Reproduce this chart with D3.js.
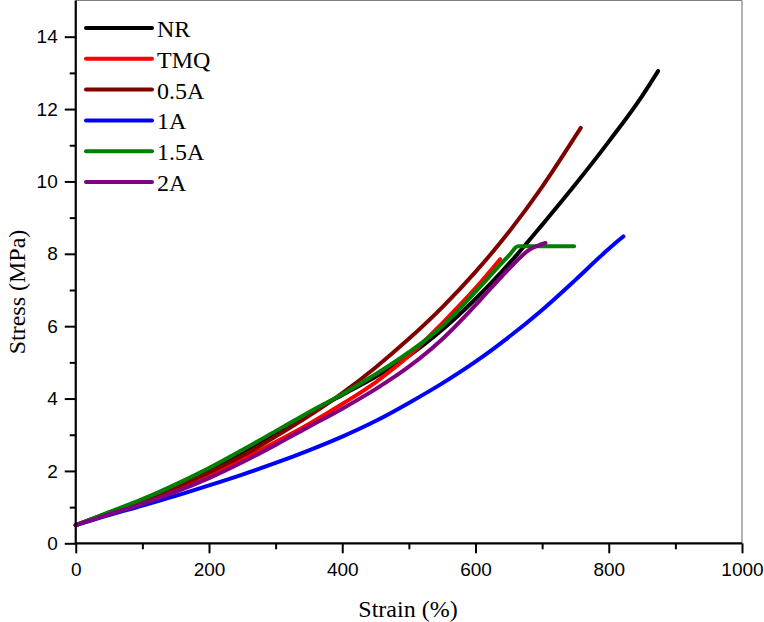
<!DOCTYPE html>
<html>
<head>
<meta charset="utf-8">
<script src="https://cdn.jsdelivr.net/npm/d3@7"></script>
<style>
  html, body { margin: 0; padding: 0; background: #fff; }
  svg { display: block; }
  .serif { font-family: "Liberation Serif", "Times New Roman", Times, "DejaVu Serif", serif; }
  .sans { font-family: "Liberation Sans", Arial, Helvetica, sans-serif; }
</style>
</head>
<body>
<svg id="chart" width="764" height="622"></svg>
<script>
// ---- data (strain %, stress MPa) ----
const seriesNames = ["NR", "TMQ", "0.5A", "1A", "1.5A", "2A"];
const seriesColors = ["#000000", "#ff0000", "#800000", "#0000ff", "#008000", "#800080"];

const nrStrain = [0, 50, 100, 150, 200, 250, 300, 350, 400, 450, 500, 550, 600, 650, 700, 750, 800, 850, 874];
const nrStress = [0.5, 0.84, 1.18, 1.56, 2.0, 2.5, 3.04, 3.6, 4.1, 4.6, 5.18, 5.9, 6.75, 7.72, 8.8, 9.92, 11.1, 12.36, 13.05];

const tmqStrain = [0, 50, 100, 150, 200, 250, 300, 350, 400, 450, 500, 550, 600, 637];
const tmqStress = [0.5, 0.84, 1.17, 1.52, 1.9, 2.33, 2.8, 3.3, 3.85, 4.45, 5.18, 6.08, 7.05, 7.85];

const a05Strain = [0, 50, 100, 150, 200, 250, 300, 350, 400, 450, 500, 550, 600, 650, 700, 750, 758];
const a05Stress = [0.5, 0.84, 1.18, 1.55, 1.96, 2.42, 2.95, 3.52, 4.15, 4.86, 5.65, 6.52, 7.5, 8.6, 9.85, 11.25, 11.48];

const a1Strain = [0, 50, 100, 150, 200, 250, 300, 350, 400, 450, 500, 550, 600, 650, 700, 750, 790, 810, 822];
const a1Stress = [0.5, 0.78, 1.04, 1.31, 1.6, 1.9, 2.22, 2.57, 2.95, 3.38, 3.88, 4.42, 5.02, 5.7, 6.45, 7.28, 7.97, 8.3, 8.48];

const a15Strain = [0, 50, 100, 150, 200, 250, 300, 350, 400, 450, 500, 550, 600, 650, 664, 748];
const a15Stress = [0.5, 0.86, 1.22, 1.63, 2.08, 2.58, 3.1, 3.62, 4.12, 4.67, 5.28, 6.0, 6.95, 7.95, 8.21, 8.21];

const a2Strain = [0, 50, 100, 150, 200, 250, 300, 350, 400, 450, 500, 550, 600, 650, 680, 705];
const a2Stress = [0.5, 0.8, 1.09, 1.42, 1.8, 2.24, 2.72, 3.22, 3.72, 4.26, 4.88, 5.64, 6.58, 7.58, 8.1, 8.3];

const seriesStrain = [nrStrain, tmqStrain, a05Strain, a1Strain, a15Strain, a2Strain];
const seriesStress = [nrStress, tmqStress, a05Stress, a1Stress, a15Stress, a2Stress];

const xTickValues = [0, 200, 400, 600, 800, 1000];
const xMinorTicks = [100, 300, 500, 700, 900];
const yTickValues = [0, 2, 4, 6, 8, 10, 12, 14];
const yMinorTicks = [1, 3, 5, 7, 9, 11, 13];

const xTitle = "Strain (%)";
const yTitle = "Stress (MPa)";

// ---- drawing ----
const svg = d3.select("#chart");
const pLeft = 75.75, pRight = 742, pTop = 0.5, pBottom = 543.3;

const x = d3.scaleLinear().domain([0, 1000]).range([pLeft, pRight]);
const y = d3.scaleLinear().domain([0, 15]).range([pBottom, pTop]);

// frame: top & right borders (grey, thin)
svg.append("line").attr("x1", pLeft).attr("x2", pRight).attr("y1", pTop).attr("y2", pTop)
  .attr("stroke", "#808080").attr("stroke-width", 1.2);
svg.append("line").attr("x1", pRight).attr("x2", pRight).attr("y1", pTop).attr("y2", pBottom)
  .attr("stroke", "#808080").attr("stroke-width", 1.2);

// curves
const line = d3.line().x(d => x(d[0])).y(d => y(d[1])).curve(d3.curveMonotoneX);
seriesNames.forEach((name, i) => {
  const pts = seriesStrain[i].map((s, j) => [s, seriesStress[i][j]]);
  svg.append("path")
    .datum(pts)
    .attr("d", line)
    .attr("fill", "none")
    .attr("stroke", seriesColors[i])
    .attr("stroke-width", 4)
    .attr("stroke-linecap", "round")
    .attr("stroke-linejoin", "round");
});

// axes
const xAxis = svg.append("g").attr("transform", `translate(0,${pBottom})`)
  .call(d3.axisBottom(x).tickValues(xTickValues).tickSize(10).tickPadding(9).tickFormat(d3.format("d")));
const xMinor = svg.append("g").attr("transform", `translate(0,${pBottom})`)
  .call(d3.axisBottom(x).tickValues(xMinorTicks).tickSize(6).tickFormat(""));
const yAxis = svg.append("g").attr("transform", `translate(${pLeft},0)`)
  .call(d3.axisLeft(y).tickValues(yTickValues).tickSize(11).tickPadding(7).tickFormat(d3.format("d")));
const yMinor = svg.append("g").attr("transform", `translate(${pLeft},0)`)
  .call(d3.axisLeft(y).tickValues(yMinorTicks).tickSize(6).tickFormat(""));

[xAxis, xMinor, yAxis, yMinor].forEach(g => {
  g.attr("font-family", null).attr("font-size", null);
  g.select(".domain").attr("stroke", "#000").attr("stroke-width", 2.2);
  g.selectAll(".tick line").attr("stroke", "#000").attr("stroke-width", 2);
  g.selectAll(".tick text").attr("fill", "#000").attr("class", "sans").style("font-size", "19px");
});
xMinor.select(".domain").remove();
yMinor.select(".domain").remove();
yAxis.select(".domain").attr("d", `M0,${pBottom}V${pTop}`);
xAxis.select(".domain").attr("d", `M${pLeft},0H${pRight}`);

// axis titles
svg.append("text").attr("class", "serif").attr("x", 408).attr("y", 617).attr("text-anchor", "middle")
  .style("font-size", "24px").text(xTitle);
svg.append("text").attr("class", "serif").attr("transform", "translate(25,292) rotate(-90)").attr("text-anchor", "middle")
  .style("font-size", "24px").text(yTitle);

// legend
const legendY0 = 28, legendStep = 30.8;
seriesNames.forEach((name, i) => {
  const ly = legendY0 + i * legendStep;
  svg.append("line").attr("x1", 86).attr("x2", 152).attr("y1", ly).attr("y2", ly)
    .attr("stroke", seriesColors[i]).attr("stroke-width", 4).attr("stroke-linecap", "round");
  svg.append("text").attr("class", "serif").attr("x", 157).attr("y", ly + 9)
    .style("font-size", "24px").attr("fill", "#000").text(name);
});
</script>
</body>
</html>
